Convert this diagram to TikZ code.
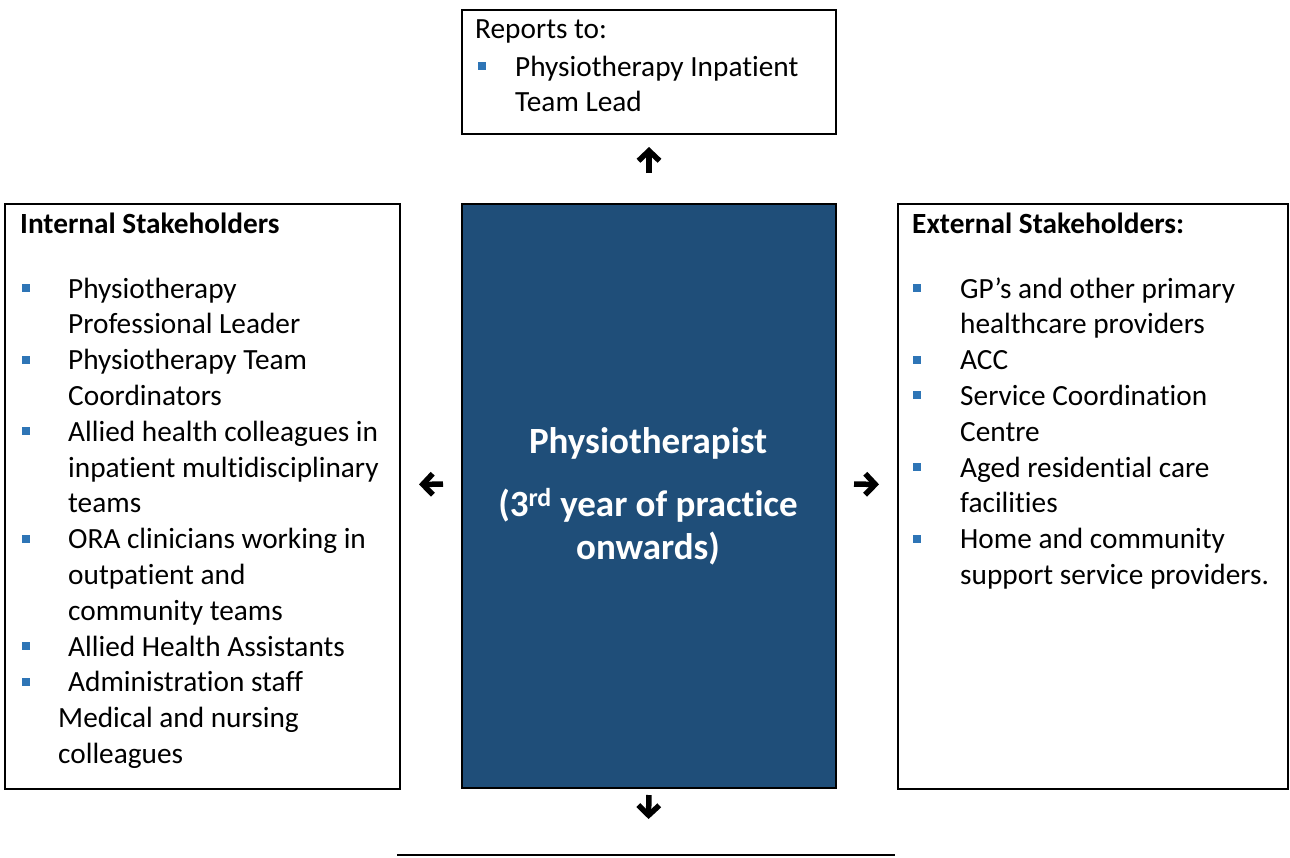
\documentclass[tikz,border=0pt]{standalone}
\usepackage{fontspec}
\setmainfont{Carlito}[Ligatures=NoCommon]
\usetikzlibrary{arrows.meta}

\definecolor{physblue}{HTML}{1F4E79}
\definecolor{bulletblue}{HTML}{2E75B6}

% small square bullet, as in the word list
\newcommand\sqbul{\textcolor{bulletblue}{\rule[6pt]{8pt}{8pt}}}
\newcommand\bodyfont{\fontsize{29.3}{35.8}\selectfont}
\newcommand\headfont{\fontsize{29.3}{35.8}\selectfont\bfseries}
\newcommand\physfont{\fontsize{37}{43}\selectfont\bfseries}

\tikzset{
  box/.style={draw, line width=2pt, anchor=north west, inner sep=0pt},
  headtext/.style={anchor=base west, inner sep=0pt, font=\headfont},
  listtext/.style={anchor=base west, inner sep=0pt, font=\bodyfont},
  flow/.style={line width=5.5pt, line join=miter,
    -{Straight Barb[length=10pt,width=21pt]}},
}

\begin{document}
\begin{tikzpicture}[x=1pt,y=-1pt]
  \useasboundingbox (0,0) rectangle (1290,857);

  % the four boxes
  \node[box, minimum width=374pt, minimum height=124pt] (reports) at (461,9) {};
  \node[box, minimum width=395pt, minimum height=585pt] (intl) at (4,203) {};
  \node[box, fill=physblue, minimum width=374pt, minimum height=584pt] (phys) at (461,203) {};
  \node[box, minimum width=390pt, minimum height=585pt] (extl) at (897,203) {};
  \coordinate (nextbox) at (648,855);

  % reports to
  \node[listtext] (reportshead) at (475,38) {Reports to:};
  \node[listtext] (reportslist) at (478,76) {%
    \begin{tabular}[t]{@{}p{37pt}@{}l@{}}
      \sqbul & Physiotherapy Inpatient\\
             & Team Lead
    \end{tabular}};

  % centre
  \node[anchor=base, inner sep=0pt, text=white, font=\physfont] (physname) at (648,453) {%
    \begin{tabular}[t]{@{}c@{}}
      Physiotherapist\\[20pt]
      (3\textsuperscript{rd} year of practice\\
      onwards)
    \end{tabular}};

  % internal
  \node[headtext] (intlhead) at (20,233) {Internal Stakeholders};
  \node[listtext] (intllist) at (22,298) {%
    \begin{tabular}[t]{@{}p{46pt}@{}l@{}}
      \sqbul & Physiotherapy\\
             & Professional Leader\\
      \sqbul & Physiotherapy Team\\
             & Coordinators\\
      \sqbul & Allied health colleagues in\\
             & inpatient multidisciplinary\\
             & teams\\
      \sqbul & ORA clinicians working in\\
             & outpatient and\\
             & community teams\\
      \sqbul & Allied Health Assistants\\
      \sqbul & Administration staff\\
      \multicolumn{2}{@{}l@{}}{\hspace*{36pt}Medical and nursing}\\
      \multicolumn{2}{@{}l@{}}{\hspace*{36pt}colleagues}
    \end{tabular}};

  % external
  \node[headtext] (extlhead) at (912,233) {External Stakeholders:};
  \node[listtext] (extllist) at (913,298) {%
    \begin{tabular}[t]{@{}p{47pt}@{}l@{}}
      \sqbul & GP’s and other primary\\
             & healthcare providers\\
      \sqbul & ACC\\
      \sqbul & Service Coordination\\
             & Centre\\
      \sqbul & Aged residential care\\
             & facilities\\
      \sqbul & Home and community\\
             & support service providers.
    \end{tabular}};

  % arrows out of the centre box
  \draw[flow, shorten <=30pt, shorten >=12pt] (phys.north) -- (reports.south);
  \draw[flow, shorten <=18pt, shorten >=18pt] ([yshift=12pt]phys.west) -- ([yshift=12pt]intl.east);
  \draw[flow, shorten <=17pt, shorten >=18pt] ([yshift=12pt]phys.east) -- ([yshift=12pt]extl.west);
  \draw[flow, shorten <=6pt, shorten >=36pt] (phys.south) -- (nextbox);

  % top edge of the box below
  \draw[line width=2pt] ([xshift=-251pt]nextbox) -- ([xshift=247pt]nextbox);
\end{tikzpicture}
\end{document}
